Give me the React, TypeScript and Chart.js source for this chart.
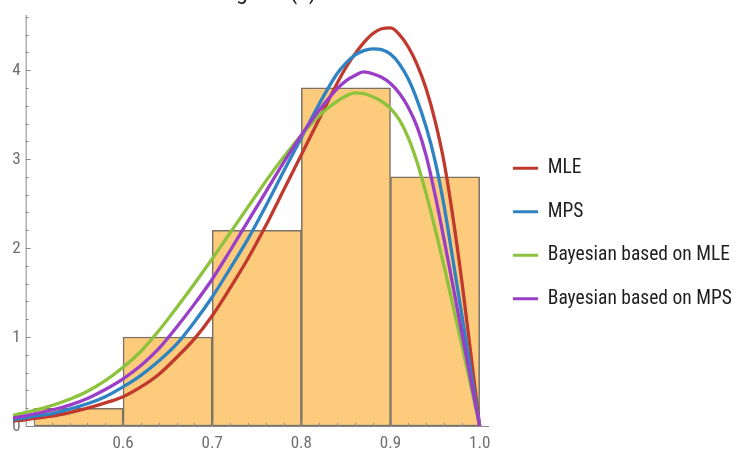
import React, { useEffect, useRef } from 'react';
import { Chart, registerables } from 'chart.js';

Chart.register(...registerables);

// ---- data ----
const xValues = [0.4765, 0.49, 0.5, 0.52, 0.54, 0.56, 0.58, 0.6, 0.62, 0.64, 0.66, 0.68, 0.7, 0.72, 0.74, 0.76, 0.78, 0.8, 0.82, 0.84, 0.85, 0.86, 0.87, 0.88, 0.89, 0.9, 0.91, 0.92, 0.93, 0.94, 0.95, 0.96, 0.97, 0.98, 0.99, 1.0];
const mleDensity = [0.055, 0.07, 0.085, 0.11, 0.15, 0.2, 0.26, 0.33, 0.44, 0.58, 0.77, 0.98, 1.24, 1.55, 1.88, 2.25, 2.65, 3.05, 3.45, 3.85, 4.03, 4.18, 4.31, 4.41, 4.465, 4.475, 4.4, 4.26, 4.06, 3.79, 3.43, 2.97, 2.35, 1.63, 0.82, 0];
const mpsDensity = [0.07, 0.09, 0.11, 0.14, 0.19, 0.25, 0.33, 0.44, 0.57, 0.73, 0.92, 1.17, 1.45, 1.77, 2.1, 2.47, 2.86, 3.24, 3.62, 3.96, 4.08, 4.17, 4.22, 4.24, 4.23, 4.18, 4.07, 3.9, 3.66, 3.36, 2.98, 2.48, 1.87, 1.25, 0.62, 0];
const bayesMleDensity = [0.12, 0.15, 0.175, 0.23, 0.3, 0.39, 0.51, 0.66, 0.84, 1.07, 1.33, 1.6, 1.88, 2.17, 2.46, 2.75, 3.02, 3.27, 3.49, 3.65, 3.71, 3.745, 3.735, 3.7, 3.65, 3.57, 3.44, 3.24, 2.96, 2.61, 2.22, 1.8, 1.36, 0.91, 0.455, 0];
const bayesMpsDensity = [0.09, 0.115, 0.135, 0.18, 0.235, 0.31, 0.41, 0.53, 0.68, 0.87, 1.11, 1.37, 1.65, 1.97, 2.3, 2.63, 2.96, 3.27, 3.55, 3.79, 3.88, 3.94, 3.98, 3.96, 3.92, 3.85, 3.74, 3.58, 3.36, 3.04, 2.6, 2.1, 1.58, 1.05, 0.52, 0];

const binStarts = [0.5, 0.6, 0.7, 0.8, 0.9];
const binWidth = 0.1;
const binHeights = [0.2, 1.0, 2.2, 3.8, 2.8];

const seriesNames = ['MLE', 'MPS', 'Bayesian based on MLE', 'Bayesian based on MPS'];
const xTickLabels = [0.6, 0.7, 0.8, 0.9, 1.0];
const yTickLabels = [0, 1, 2, 3, 4];
const titleText = 'Histogram (a)';

// ---- styling / ranges ----
const seriesColors = ['#c0392e', '#2f83c2', '#8cc23c', '#9a3ec8'];
const seriesData = [mleDensity, mpsDensity, bayesMleDensity, bayesMpsDensity];
const X_MIN = 0.4765;
const X_MAX = 1.0105;
const Y_MIN = 0;
const Y_MAX = 4.62;
const AXIS_ORIGIN_X = 0.4907;
const AXIS_COLOR = '#8a8a8a';
const LABEL_COLOR = '#6e6e6e';
const FONT = "'Roboto Condensed', 'DejaVu Sans', sans-serif";
const TICK_FONT_SIZE = 17;
const LEGEND_WIDTH = 252;

const legendWidthPlugin = {
  id: 'legendWidth',
  beforeLayout(chart: any) {
    const lg = chart.legend;
    if (lg && !lg.__patched) {
      const orig = lg.fit.bind(lg);
      lg.fit = function () {
        orig();
        if (!this.isHorizontal()) this.width = LEGEND_WIDTH;
      };
      lg.__patched = true;
    }
  },
};

const axesPlugin = {
  id: 'mmaAxes',
  afterDatasetDraw(chart: any, args: any) {
    if (args.meta.type !== 'bar') return;
    const { ctx, chartArea } = chart;
    const xs = chart.scales.x;
    const ys = chart.scales.y;
    const ox = xs.getPixelForValue(AXIS_ORIGIN_X);
    const oy = ys.getPixelForValue(0);
    ctx.save();
    ctx.strokeStyle = AXIS_COLOR;
    ctx.lineWidth = 1;
    ctx.beginPath();
    ctx.moveTo(ox, oy + 0.5);
    ctx.lineTo(chartArea.right, oy + 0.5);
    ctx.moveTo(ox + 0.5, oy);
    ctx.lineTo(ox + 0.5, chartArea.top);
    // x ticks every 0.02 from 0.50 to 1.00, major every 0.1
    for (let k = 25; k <= 50; k++) {
      const px = Math.round(xs.getPixelForValue(k * 0.02)) + 0.5;
      const len = k % 5 === 0 ? 5 : 3;
      ctx.moveTo(px, oy);
      ctx.lineTo(px, oy - len);
    }
    // y ticks every 0.2 up to 4.6, major every 1
    for (let k = 1; k <= 23; k++) {
      const py = Math.round(ys.getPixelForValue(k * 0.2)) + 0.5;
      const len = k % 5 === 0 ? 5 : 3;
      ctx.moveTo(ox, py);
      ctx.lineTo(ox + len, py);
    }
    ctx.stroke();
    // y tick labels, left of the axis line
    ctx.fillStyle = LABEL_COLOR;
    ctx.font = `${TICK_FONT_SIZE}px ${FONT}`;
    ctx.textAlign = 'right';
    ctx.textBaseline = 'middle';
    yTickLabels.forEach((v) => {
      ctx.fillText(String(v), ox - 5, ys.getPixelForValue(v) + 1);
    });
    ctx.restore();
  },
};

export default function App() {
  const ref = useRef<HTMLCanvasElement>(null);

  useEffect(() => {
    const canvas = ref.current;
    if (!canvas) return;

    const lineSets = seriesNames.map((name, i) => ({
      type: 'line' as const,
      label: name,
      data: xValues.map((x, j) => ({ x, y: seriesData[i][j] })),
      borderColor: seriesColors[i],
      backgroundColor: seriesColors[i],
      borderWidth: 3.3,
      pointRadius: 0,
      pointHoverRadius: 0,
      fill: false,
      cubicInterpolationMode: 'monotone' as const,
      order: 4 - i,
    }));

    const barSet = {
      type: 'bar' as const,
      label: 'Histogram',
      data: binStarts.map((s, i) => ({ x: s + binWidth / 2, y: binHeights[i] })),
      backgroundColor: '#fccb7c',
      borderColor: '#7a7064',
      borderWidth: 1.5,
      borderSkipped: false,
      barPercentage: 1,
      categoryPercentage: 1,
      order: 10,
    };

    const chart = new Chart(canvas, {
      type: 'bar',
      data: { datasets: [...lineSets, barSet] as any },
      options: {
        animation: false,
        responsive: true,
        maintainAspectRatio: false,
        layout: { padding: { left: 13, top: 15, right: 0, bottom: 0 } },
        plugins: {
          title: { display: false },
          tooltip: { enabled: false },
          legend: {
            position: 'right',
            align: 'center',
            labels: {
              boxWidth: 25,
              boxHeight: 3,
              padding: 24,
              color: '#1e1e1e',
              font: { family: FONT, size: 19.5 },
              filter: (item: any) => item.datasetIndex < seriesNames.length,
              sort: (a: any, b: any) => a.datasetIndex - b.datasetIndex,
              generateLabels: (c: any) =>
                Chart.defaults.plugins.legend.labels
                  .generateLabels(c)
                  .map((it: any) => ({ ...it, lineWidth: 0, fillStyle: seriesColors[it.datasetIndex] ?? it.fillStyle })),
            },
          },
        },
        scales: {
          x: {
            type: 'linear',
            min: X_MIN,
            max: X_MAX,
            offset: false,
            grid: { display: false, drawTicks: false },
            border: { display: false },
            ticks: {
              color: LABEL_COLOR,
              font: { family: FONT, size: TICK_FONT_SIZE },
              padding: 8,
              autoSkip: false,
              maxRotation: 0,
              callback: (v: any) => Number(v).toFixed(1),
            },
            afterBuildTicks: (scale: any) => {
              scale.ticks = xTickLabels.map((v) => ({ value: v }));
            },
            afterFit: (scale: any) => {
              scale.height = 26;
            },
          },
          y: {
            type: 'linear',
            min: Y_MIN,
            max: Y_MAX,
            position: { x: AXIS_ORIGIN_X },
            grid: { display: false, drawTicks: false },
            border: { display: false },
            ticks: { display: false },
            afterBuildTicks: (scale: any) => {
              scale.ticks = yTickLabels.map((v) => ({ value: v }));
            },
          },
        } as any,
      },
      plugins: [legendWidthPlugin, axesPlugin],
    });

    return () => chart.destroy();
  }, []);

  return (
    <div style={{ position: 'fixed', left: 0, top: 0, width: 741, height: 452, background: '#ffffff' }}>
      <canvas ref={ref} />
      <div
        style={{
          position: 'absolute',
          left: 13,
          top: 0,
          width: 476,
          height: 5,
          overflow: 'hidden',
          pointerEvents: 'none',
        }}
      >
        <div
          style={{
            position: 'absolute',
            left: 0,
            top: -21,
            width: '100%',
            textAlign: 'center',
            fontFamily: FONT,
            fontSize: 24,
            lineHeight: '24px',
            color: '#222',
            whiteSpace: 'nowrap',
          }}
        >
          {titleText}
        </div>
      </div>
    </div>
  );
}
